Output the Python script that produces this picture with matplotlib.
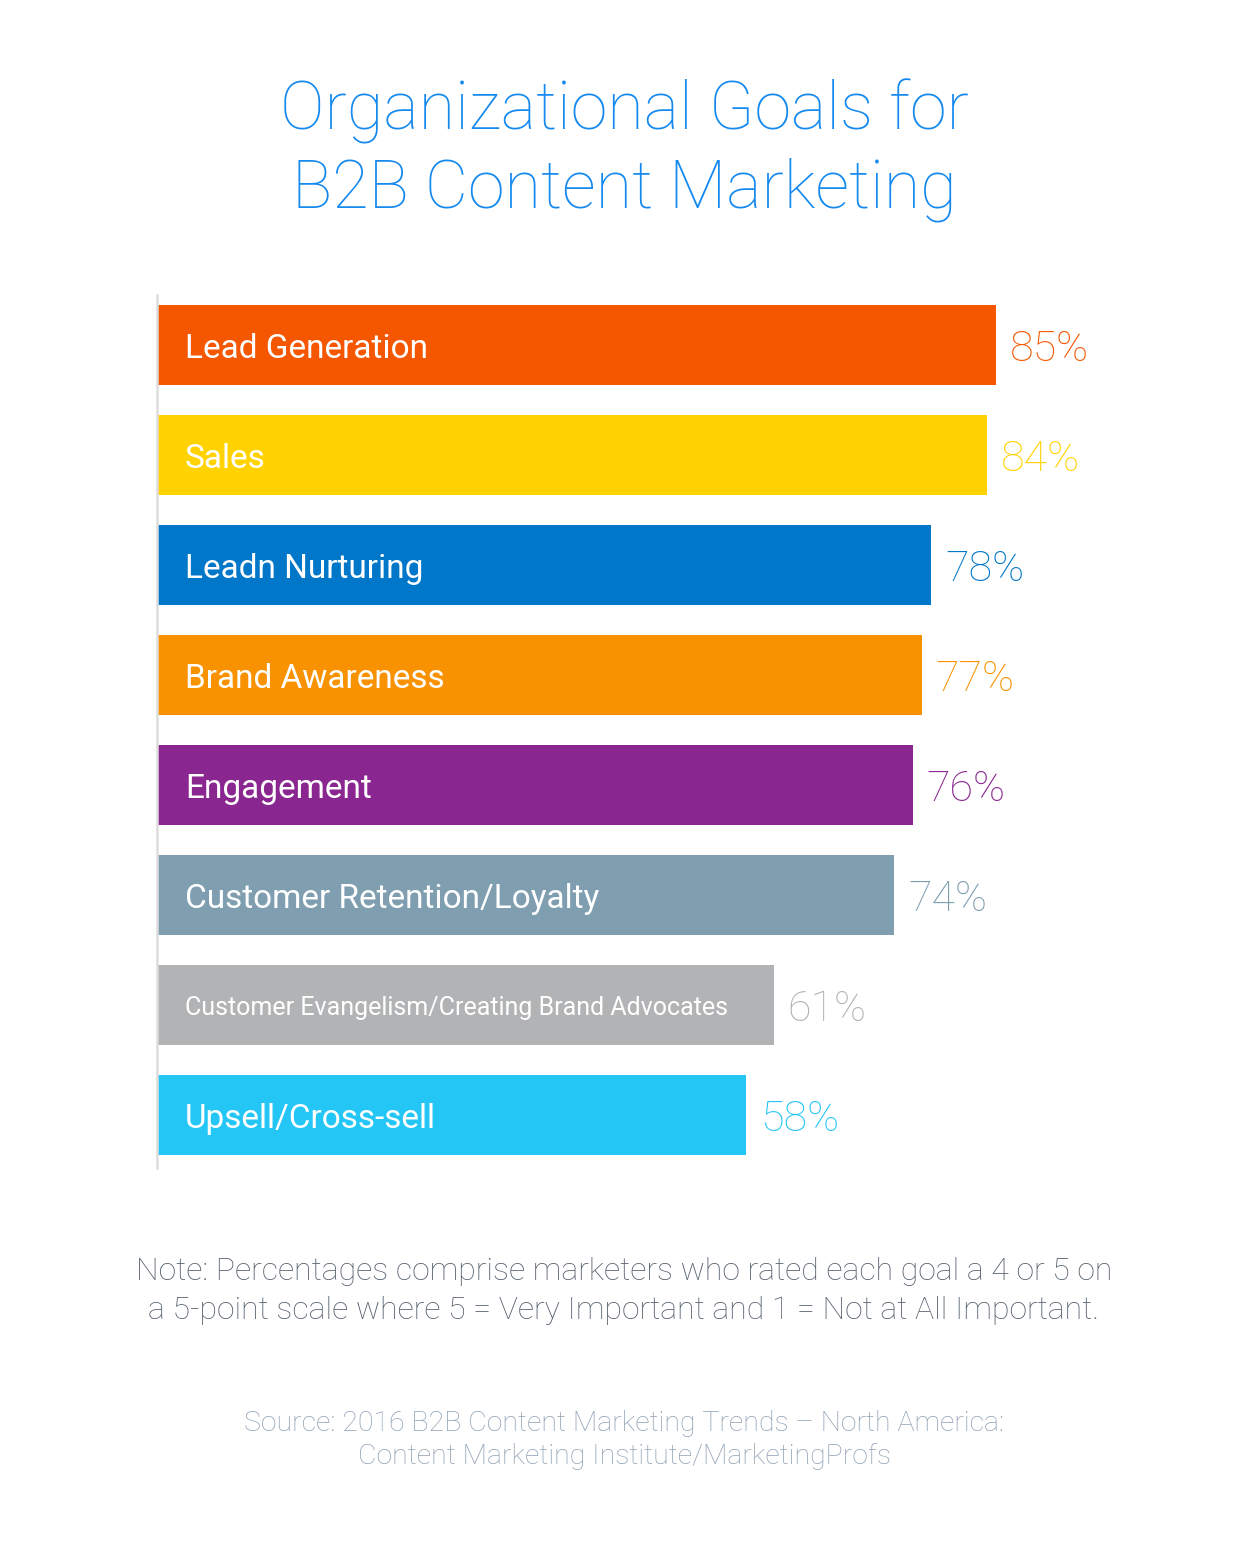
import matplotlib.pyplot as plt
import numpy as np

W, H = 1248, 1562

# data
goals = ["Lead Generation", "Sales", "Leadn Nurturing", "Brand Awareness", "Engagement",
         "Customer Retention/Loyalty", "Customer Evangelism/Creating Brand Advocates",
         "Upsell/Cross-sell"]
values = [85, 84, 78, 77, 76, 74, 61, 58]
colors = ["#F55600", "#FFD200", "#0077C8", "#F99200", "#8A268F", "#7F9FB1", "#B2B3B5", "#24C6F5"]
label_sizes = [24, 24, 24, 24, 24, 24, 18, 24]

title_lines = ["Organizational Goals for", "B2B Content Marketing"]
note_lines = ["Note: Percentages comprise marketers who rated each goal a 4 or 5 on",
              "a 5-point scale where 5 = Very Important and 1 = Not at All Important."]
source_lines = ["Source: 2016 B2B Content Marketing Trends \u2013 North America:",
                "Content Marketing Institute/MarketingProfs"]

plt.rcParams['font.family'] = ['Roboto', 'DejaVu Sans']

fig = plt.figure(figsize=(W / 100, H / 100), dpi=100)
fig.patch.set_facecolor("white")

# axes placed in pixel terms
left_px, right_px, top_px, bot_px = 157, 1157, 295, 1168
ax = fig.add_axes([left_px / W, 1 - bot_px / H, (right_px - left_px) / W, (bot_px - top_px) / H])

base = -5.6  # bars start a little left of zero in the original
y = np.arange(len(values))
vals = np.array(values)
ax.barh(y, vals - base, left=base, height=0.727, color=colors)
ax.set_xlim(base, base + (right_px - left_px) / 9.259)
ax.set_ylim(7.48, -0.455)

for s in ["top", "right", "bottom"]:
    ax.spines[s].set_visible(False)
ax.spines["left"].set_color("#DDDDDD")
ax.spines["left"].set_linewidth(1.8)
ax.set_xticks([])
ax.set_yticks([])

for i, (g, v, c, fs) in enumerate(zip(goals, values, colors, label_sizes)):
    ax.annotate(g, xy=(base, i), xytext=(20, 0), textcoords="offset points",
                ha="left", va="center_baseline", color="white", fontsize=fs, fontweight="normal")
    ax.annotate(f"{v}%", xy=(v, i), xytext=(10, 0), textcoords="offset points",
                ha="left", va="center_baseline", color=c, fontsize=31, fontweight="light")

# title
fig.text(0.5, 1 - 130 / H, title_lines[0], ha="center", va="baseline",
         fontsize=48, color="#1589EE", fontweight="light")
fig.text(0.5, 1 - 207 / H, title_lines[1], ha="center", va="baseline",
         fontsize=48, color="#1589EE", fontweight="light")

# note
fig.text(0.5, 1 - 1280 / H, note_lines[0], ha="center", va="baseline",
         fontsize=23, color="#56606C", fontweight="light")
fig.text(0.5, 1 - 1319 / H, note_lines[1], ha="center", va="baseline",
         fontsize=23, color="#56606C", fontweight="light")

# source
fig.text(0.5, 1 - 1431 / H, source_lines[0], ha="center", va="baseline",
         fontsize=20.5, color="#8FA1B4", fontweight="light")
fig.text(0.5, 1 - 1464 / H, source_lines[1], ha="center", va="baseline",
         fontsize=20.5, color="#8FA1B4", fontweight="light")

plt.savefig("out.png", dpi=100, facecolor="white")
